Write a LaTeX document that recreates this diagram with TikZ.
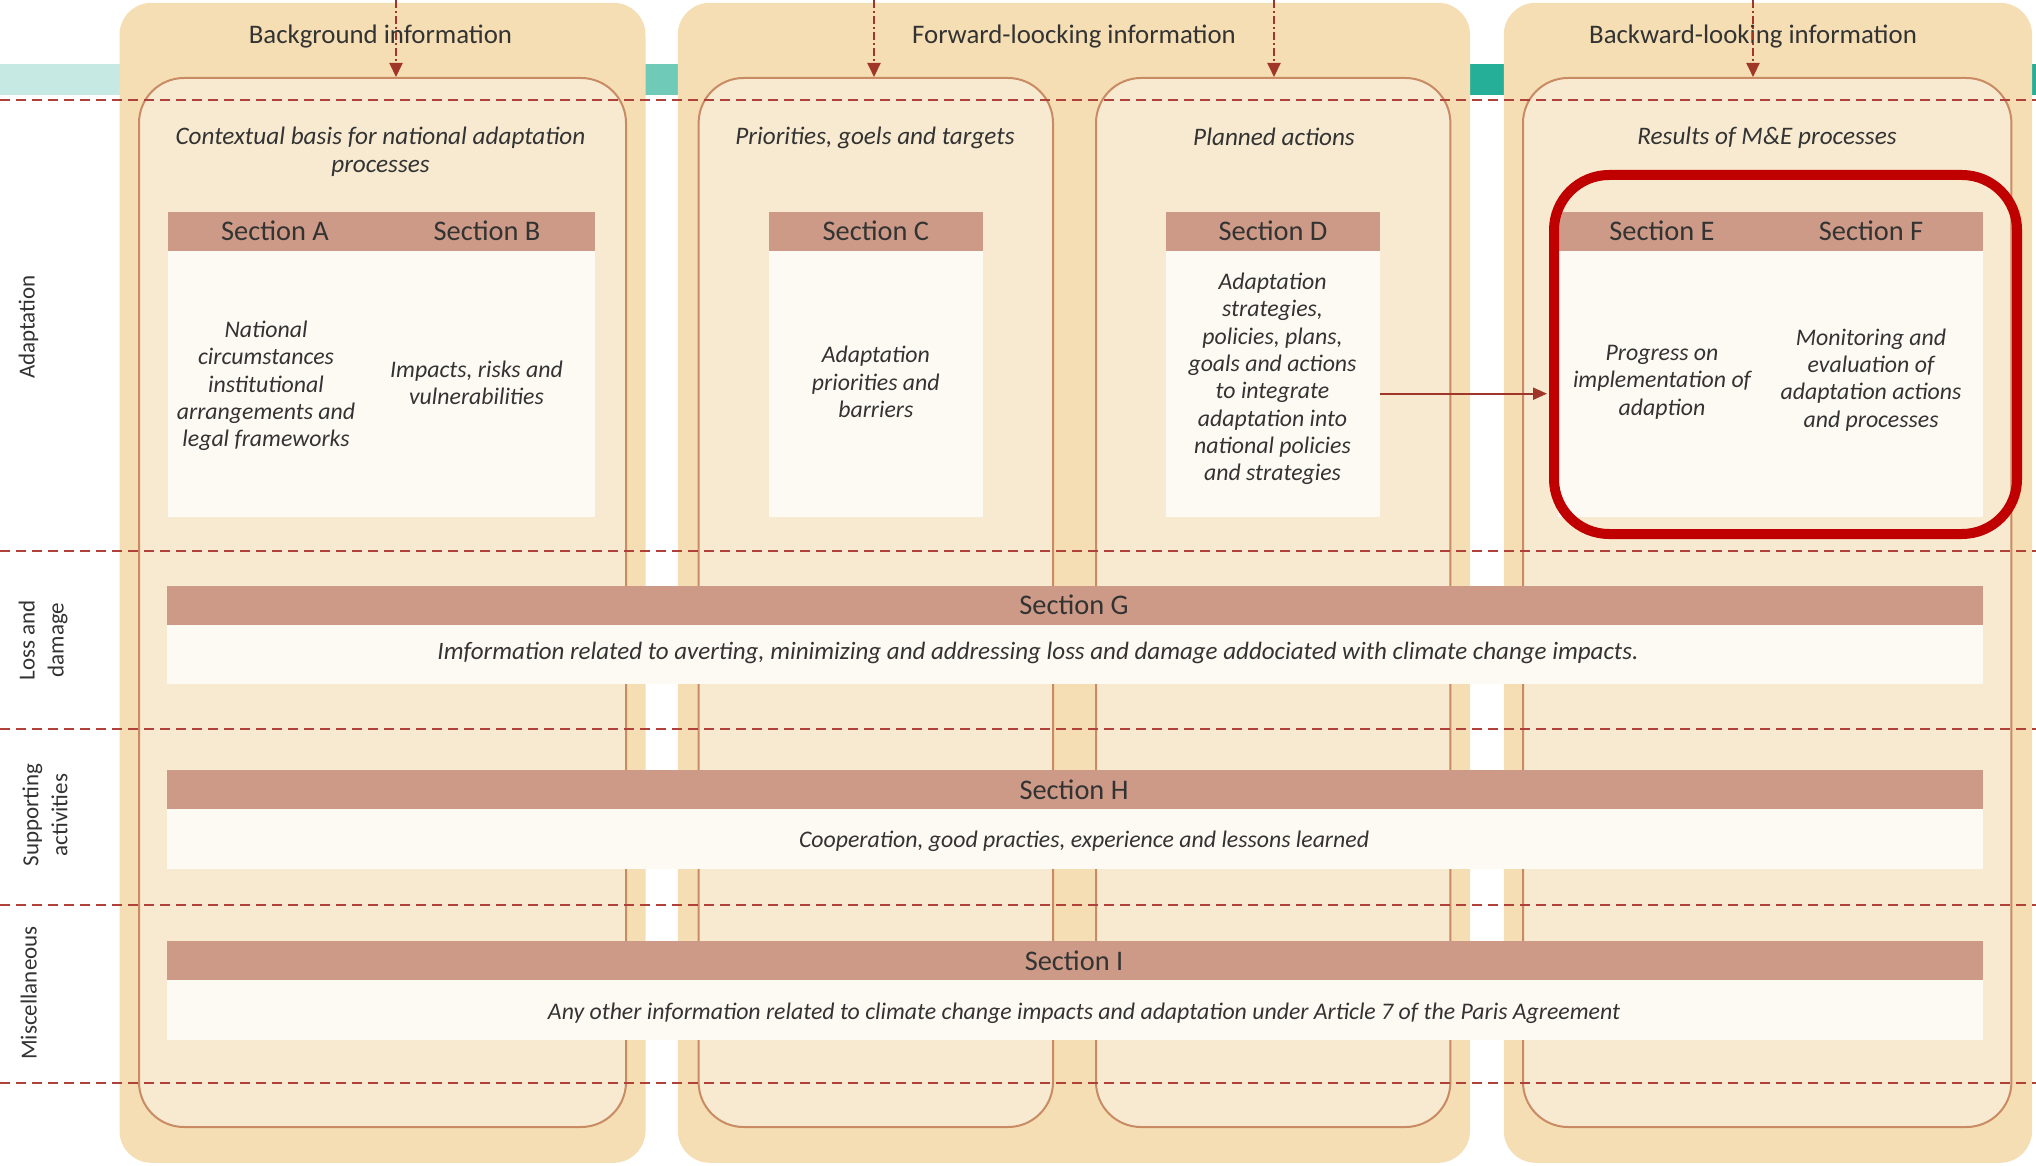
\documentclass[tikz,border=0pt]{standalone}
\usepackage{fontspec}
\setmainfont{Carlito}
\usetikzlibrary{arrows.meta}
\definecolor{outerc}{HTML}{F5DEB3}
\definecolor{innerc}{HTML}{F7EAD0}
\definecolor{innerb}{HTML}{C98B64}
\definecolor{secc}{HTML}{CC9A86}
\definecolor{bodyc}{HTML}{FDFAF3}
\definecolor{dashc}{HTML}{B0413A}
\definecolor{arrc}{HTML}{A0352A}
\definecolor{tealL}{HTML}{C6EAE3}
\definecolor{tealM}{HTML}{6FCBB8}
\definecolor{tealD}{HTML}{26AF98}
\definecolor{hl}{HTML}{C00000}
\definecolor{txt}{HTML}{333333}
\begin{document}
\begin{tikzpicture}[x=1pt,y=-1pt,
  outerbox/.style={fill=outerc, draw=none, rounded corners=32pt, minimum height=1160pt, inner sep=0pt},
  innerbox/.style={fill=innerc, draw=innerb, line width=2pt, rounded corners=45pt, minimum height=1049pt, inner sep=0pt},
  sechead/.style={fill=secc, inner sep=0pt, minimum height=39pt},
  seclabel/.style={inner sep=0pt, font=\fontsize{28.4}{31}\selectfont, text=txt},
  secbody/.style={fill=bodyc, inner sep=0pt},
  bodytext/.style={align=center, font=\fontsize{23.8}{27.3}\selectfont\itshape, text=txt, inner sep=0pt},
  longtext/.style={align=center, font=\fontsize{25}{28}\selectfont\itshape, text=txt, inner sep=0pt},
  subtitle/.style={align=center, font=\fontsize{25.2}{28.6}\selectfont\itshape, text=txt, inner sep=0pt},
  coltitle/.style={font=\fontsize{26.8}{30}\selectfont, text=txt, inner sep=0pt},
  rowlabel/.style={rotate=90, align=center, font=\fontsize{23}{29}\selectfont, text=txt, inner sep=0pt},
  rowline/.style={dashc, line width=2pt, dash pattern=on 10pt off 6pt},
  downarrow/.style={arrc, line width=2pt, dash pattern=on 8pt off 3pt on 2pt off 3pt, -{Triangle[length=14pt,width=13pt]}},
  flowarrow/.style={arrc, line width=2pt, -{Triangle[length=14pt,width=12pt]}},
  highlight/.style={draw=hl, line width=10pt, rounded corners=55pt, inner sep=0pt}
]
\useasboundingbox (0,0) rectangle (2036,1166);

% teal band (colour changes hidden under the columns)
\fill[tealL] (0,63.6) rectangle (502,94.8);
\fill[tealM] (500,63.6) rectangle (1302,94.8);
\fill[tealD] (1300,63.6) rectangle (2036,94.8);

% outer columns
\node[outerbox, minimum width=526pt] (col1) at (382.5,582.8) {};
\node[outerbox, minimum width=792.2pt] (col2) at (1073.9,582.8) {};
\node[outerbox, minimum width=528.3pt] (col3) at (1767.9,582.8) {};

% inner boxes
\node[innerbox, minimum width=487pt] (in1) at (382.5,602.5) {};
\node[innerbox, minimum width=354.4pt] (in2) at (875.8,602.5) {};
\node[innerbox, minimum width=354.4pt] (in3) at (1273.2,602.5) {};
\node[innerbox, minimum width=488.4pt] (in4) at (1767.2,602.5) {};

% horizontal dashed row separators
\foreach \yy in {100,550.6,728.5,905,1083}
  \draw[rowline] (0,\yy) -- (2036,\yy);

% column titles
\node[coltitle] (t1) at (380.5,36.4) {Background information};
\node[coltitle] (t2) at (1074,36.4) {Forward-loocking information};
\node[coltitle] (t3) at (1753,36.4) {Backward-looking information};

% dashed arrows from top
\coordinate (a1) at (396,0);
\coordinate (a2) at (874,0);
\coordinate (a3) at (1274,0);
\coordinate (a4) at (1753,0);
\draw[downarrow] (a1) -- (a1 |- in1.north);
\draw[downarrow] (a2) -- (a2 |- in2.north);
\draw[downarrow] (a3) -- (a3 |- in3.north);
\draw[downarrow] (a4) -- (a4 |- in4.north);

% subtitles
\node[subtitle] (s1) at (380.5,151.9) {Contextual basis for national adaptation\\processes};
\node[subtitle] (s2) at (875,137.6) {Priorities, goels and targets};
\node[subtitle] (s3) at (1274,137) {Planned actions};
\node[subtitle] (s4) at (1767,137.6) {Results of M\&E processes};

% Sections A/B
\node[sechead, minimum width=427.2pt] (hAB) at (381.1,231.2) {};
\node[seclabel] (lA) at (275,231.2) {Section A};
\node[seclabel] (lB) at (487,231.2) {Section B};
\node[secbody, minimum width=427.2pt, minimum height=266.2pt] (bAB) at (381.1,383.7) {};
\node[bodytext] (xA) at (266,386) {National\\circumstances\\institutional\\arrangements and\\legal frameworks};
\node[bodytext] (xB) at (476.5,383) {Impacts, risks and\\vulnerabilities};

% Section C
\node[sechead, minimum width=214.3pt] (hC) at (875.8,231.2) {};
\node[seclabel] (lC) at (875.8,231.2) {Section C};
\node[secbody, minimum width=214.3pt, minimum height=266.2pt] (bC) at (875.8,383.7) {};
\node[bodytext] (xC) at (875.8,382) {Adaptation\\priorities and\\barriers};

% Section D
\node[sechead, minimum width=214pt] (hD) at (1273,231.2) {};
\node[seclabel] (lD) at (1273,231.2) {Section D};
\node[secbody, minimum width=214pt, minimum height=266.2pt] (bD) at (1273,383.7) {};
\node[bodytext] (xD) at (1272.5,379) {Adaptation\\strategies,\\policies, plans,\\goals and actions\\to integrate\\adaptation into\\national policies\\and strategies};

% Sections E/F
\node[sechead, minimum width=425pt] (hEF) at (1770.5,231.2) {};
\node[seclabel] (lE) at (1662,231.2) {Section E};
\node[seclabel] (lF) at (1871,231.2) {Section F};
\node[secbody, minimum width=425pt, minimum height=266.2pt] (bEF) at (1770.5,383.7) {};
\node[bodytext] (xE) at (1662,382) {Progress on\\implementation of\\adaption};
\node[bodytext] (xF) at (1871,380) {Monitoring and\\evaluation of\\adaptation actions\\and processes};

% highlight box
\node[highlight, minimum width=463pt, minimum height=359pt] (red) at (1785.5,354.5) {};

% arrow D -> E/F
\coordinate (arrS) at ([yshift=-10pt]bD.east);
\draw[flowarrow, shorten >=2pt] (arrS) -- (arrS -| red.west);

% Section G
\node[sechead, minimum width=1815.5pt] (hG) at (1075.2,605.1) {};
\node[seclabel] (lG) at (1074,605.1) {Section G};
\node[secbody, minimum width=1815.5pt, minimum height=59.7pt] (bG) at (1075.2,654.5) {};
\node[longtext] (xG) at (1038,653) {Imformation related to averting, minimizing and addressing loss and damage addociated with climate change impacts.};

% Section H
\node[sechead, minimum width=1815.5pt] (hH) at (1075.2,789.5) {};
\node[seclabel] (lH) at (1074,789.5) {Section H};
\node[secbody, minimum width=1815.5pt, minimum height=59.7pt] (bH) at (1075.2,838.9) {};
\node[bodytext] (xH) at (1084,841.4) {Cooperation, good practies, experience and lessons learned};

% Section I
\node[sechead, minimum width=1815.5pt] (hI) at (1075.2,960.9) {};
\node[seclabel] (lI) at (1074,960.9) {Section I};
\node[secbody, minimum width=1815.5pt, minimum height=59.7pt] (bI) at (1075.2,1010.2) {};
\node[bodytext] (xI) at (1084,1012.8) {Any other information related to climate change impacts and adaptation under Article 7 of the Paris Agreement};

% row labels
\node[rowlabel] (r1) at (28.6,327) {Adaptation};
\node[rowlabel] (r2) at (43,640) {Loss and\\damage};
\node[rowlabel] (r3) at (45,815) {Supporting\\activities};
\node[rowlabel] (r4) at (28.6,993) {Miscellaneous};
\end{tikzpicture}
\end{document}
